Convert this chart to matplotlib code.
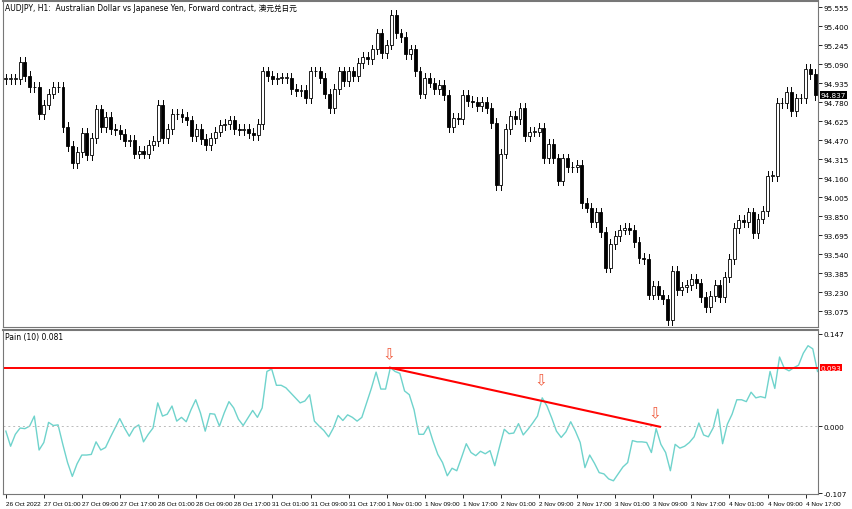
import matplotlib
matplotlib.use("Agg")
import matplotlib.pyplot as plt
import numpy as np

closes = [94.97,94.97,94.97,95.11,94.99,94.90,94.90,94.68,94.76,94.85,94.90,94.90,94.58,94.42,94.28,94.37,94.53,94.35,94.49,94.72,94.58,94.66,94.56,94.55,94.52,94.46,94.47,94.36,94.38,94.36,94.43,94.46,94.76,94.49,94.56,94.68,94.68,94.66,94.63,94.50,94.56,94.48,94.43,94.49,94.54,94.59,94.60,94.63,94.56,94.55,94.56,94.53,94.51,94.60,95.03,94.99,94.97,
          94.98,94.98,94.98,94.89,94.87,94.88,94.81,95.03,95.03,94.98,94.85,94.73,94.89,95.03,94.95,95.03,94.99,95.10,95.15,95.13,95.21,95.34,95.18,95.25,95.49,95.34,95.31,95.17,95.21,95.03,94.85,94.98,94.94,94.89,94.92,94.84,94.58,94.65,94.64,94.84,94.79,94.78,94.75,94.78,94.73,94.61,94.10,94.36,94.56,94.67,94.64,94.73,94.50,94.54,94.54,94.57,94.32,94.44,
          94.32,94.14,94.32,94.25,94.25,94.27,93.96,93.92,93.80,93.88,93.72,93.43,93.62,93.69,93.74,93.75,93.74,93.64,93.51,93.50,93.21,93.28,93.21,93.17,93.00,93.40,93.25,93.27,93.29,93.34,93.30,93.19,93.11,93.20,93.29,93.19,93.35,93.50,93.75,93.82,93.80,93.88,93.71,93.83,93.89,94.18,94.18,94.77,94.77,94.86,94.71,94.81,94.81,95.05,95.01,94.837]
opens = [94.97] + closes[:-1]

pain = [-0.008,-0.032,-0.013,-0.003,-0.004,0.0,0.016,-0.038,-0.026,0.006,0.001,0.002,-0.029,-0.058,-0.080,-0.060,-0.046,-0.046,-0.045,-0.025,-0.038,-0.034,-0.018,-0.003,0.012,-0.003,-0.016,-0.003,0.002,-0.025,-0.013,-0.003,0.037,0.016,0.019,0.032,0.008,0.014,0.007,0.026,0.042,0.021,-0.008,0.020,0.019,0.0,0.021,0.039,0.029,0.011,0.001,0.013,0.025,0.014,0.029,0.087,0.091,0.065,0.065,0.061,0.053,0.045,0.037,0.040,0.050,0.008,0.0,-0.007,-0.017,-0.003,0.017,0.009,0.018,0.014,0.008,0.014,0.037,0.060,0.086,0.059,0.059,0.093,0.087,0.084,0.056,0.050,0.026,-0.013,-0.013,0.0,-0.024,
        -0.045,-0.058,-0.079,-0.067,-0.071,-0.050,-0.028,-0.042,-0.047,-0.040,-0.044,-0.039,-0.063,-0.033,-0.005,-0.012,-0.011,0.004,-0.014,-0.005,0.005,0.016,0.045,0.032,0.013,-0.008,-0.018,-0.009,0.007,-0.008,-0.026,-0.066,-0.046,-0.059,-0.074,-0.076,-0.084,-0.087,-0.076,-0.065,-0.058,-0.023,-0.025,-0.025,-0.026,-0.042,-0.004,-0.029,-0.042,-0.071,-0.029,-0.035,-0.032,-0.026,-0.017,0.005,-0.014,-0.017,-0.003,0.027,-0.028,0.003,0.019,0.042,0.042,0.039,0.054,0.045,0.047,0.045,0.087,0.060,0.110,0.092,0.088,0.093,0.097,0.116,0.128,0.123,0.087]

xlabels = ["26 Oct 2022","27 Oct 01:00","27 Oct 09:00","27 Oct 17:00","28 Oct 01:00","28 Oct 09:00","28 Oct 17:00",
           "31 Oct 01:00","31 Oct 09:00","31 Oct 17:00","1 Nov 01:00","1 Nov 09:00","1 Nov 17:00","2 Nov 01:00",
           "2 Nov 09:00","2 Nov 17:00","3 Nov 01:00","3 Nov 09:00","3 Nov 17:00","4 Nov 01:00","4 Nov 09:00","4 Nov 17:00"]
price_ticks = [round(93.075 + 0.155*k, 3) for k in range(17)]
level = 0.093
trend_x = [80.7, 137.4]
trend_y = [0.093, -0.001]
arrow_x = [80.5, 112.4, 136.3]
arrow_y = [0.115, 0.074, 0.022]

N = len(closes)
fig = plt.figure(figsize=(8.52, 5.10), dpi=100)
W, H = 852, 510
ax = fig.add_axes([3/W, 1-328/H, 815/W, 326/H])
ax2 = fig.add_axes([3/W, 1-495/H, 815/W, 164/H])
xl = (-0.6, N - 0.4)

for i, (o, c) in enumerate(zip(opens, closes)):
    hi, lo = max(o, c) + 0.04, min(o, c) - 0.04
    ax.plot([i, i], [lo, hi], color="black", lw=0.7, zorder=1)
    bull = c >= o
    h = max(abs(c - o), 0.004)
    ax.bar(i, h, bottom=min(o, c), width=0.62, color="white" if bull else "black",
           edgecolor="black", linewidth=0.6, zorder=2)
ax.set_xlim(*xl)
ax.set_ylim(92.945, 95.605)
ax.set_xticks([])
ax.yaxis.tick_right()
ax.set_yticks(price_ticks)
ax.set_yticklabels([f"{t:.3f}" for t in price_ticks], fontsize=5.2)
ax.tick_params(axis="y", length=3, width=0.6, pad=1)
ax.text(0.003, 0.993, "AUDJPY, H1:  Australian Dollar vs Japanese Yen, Forward contract, 澳元兑日元",
        transform=ax.transAxes, fontsize=5.5, va="top", ha="left",
        family=["DejaVu Sans", "Noto Sans CJK SC"])
ax.text(1.003, closes[-1], f"{closes[-1]:.3f}", transform=ax.get_yaxis_transform(), fontsize=5.2,
        va="center", ha="left", color="white", bbox=dict(boxstyle="square,pad=0.1", fc="black", ec="none"))

px = np.linspace(0, N - 0.5, len(pain))
ax2.plot(px, pain, color="#6fd3cc", lw=1.0)
ax2.axhline(0, color="#bbbbbb", lw=0.7, ls=(0, (2, 3)))
ax2.axhline(level, color="red", lw=1.4)
ax2.plot(trend_x, trend_y, color="red", lw=1.5)
for ax_, ay in zip(arrow_x, arrow_y):
    ax2.text(ax_, ay, "⇩", color="#f05a3c", fontsize=11, ha="center", va="center")
ax2.set_xlim(*xl)
ax2.set_ylim(-0.108, 0.153)
ax2.yaxis.tick_right()
ax2.set_yticks([0.147, 0.0, -0.107])
ax2.set_yticklabels(["0.147", "0.000", "-0.107"], fontsize=5.2)
ax2.tick_params(axis="y", length=3, width=0.6, pad=1)
ax2.set_xticks(np.arange(0, 8*len(xlabels), 8))
ax2.set_xticklabels(xlabels, fontsize=4.6, ha="left", family="Liberation Sans")
ax2.tick_params(axis="x", length=3, width=0.6, pad=2)
ax2.text(0.003, 0.985, "Pain (10) 0.081", transform=ax2.transAxes, fontsize=5.5, va="top", ha="left")
ax2.text(1.003, level, "0.093", transform=ax2.get_yaxis_transform(), fontsize=5.2,
         va="center", ha="left", color="white", bbox=dict(boxstyle="square,pad=0.1", fc="red", ec="none"))
for a in (ax, ax2):
    for s in a.spines.values():
        s.set_color("#777777"); s.set_linewidth(0.8)
    a.spines["top"].set_linewidth(1.5)
fig.savefig("out.png", dpi=100)
